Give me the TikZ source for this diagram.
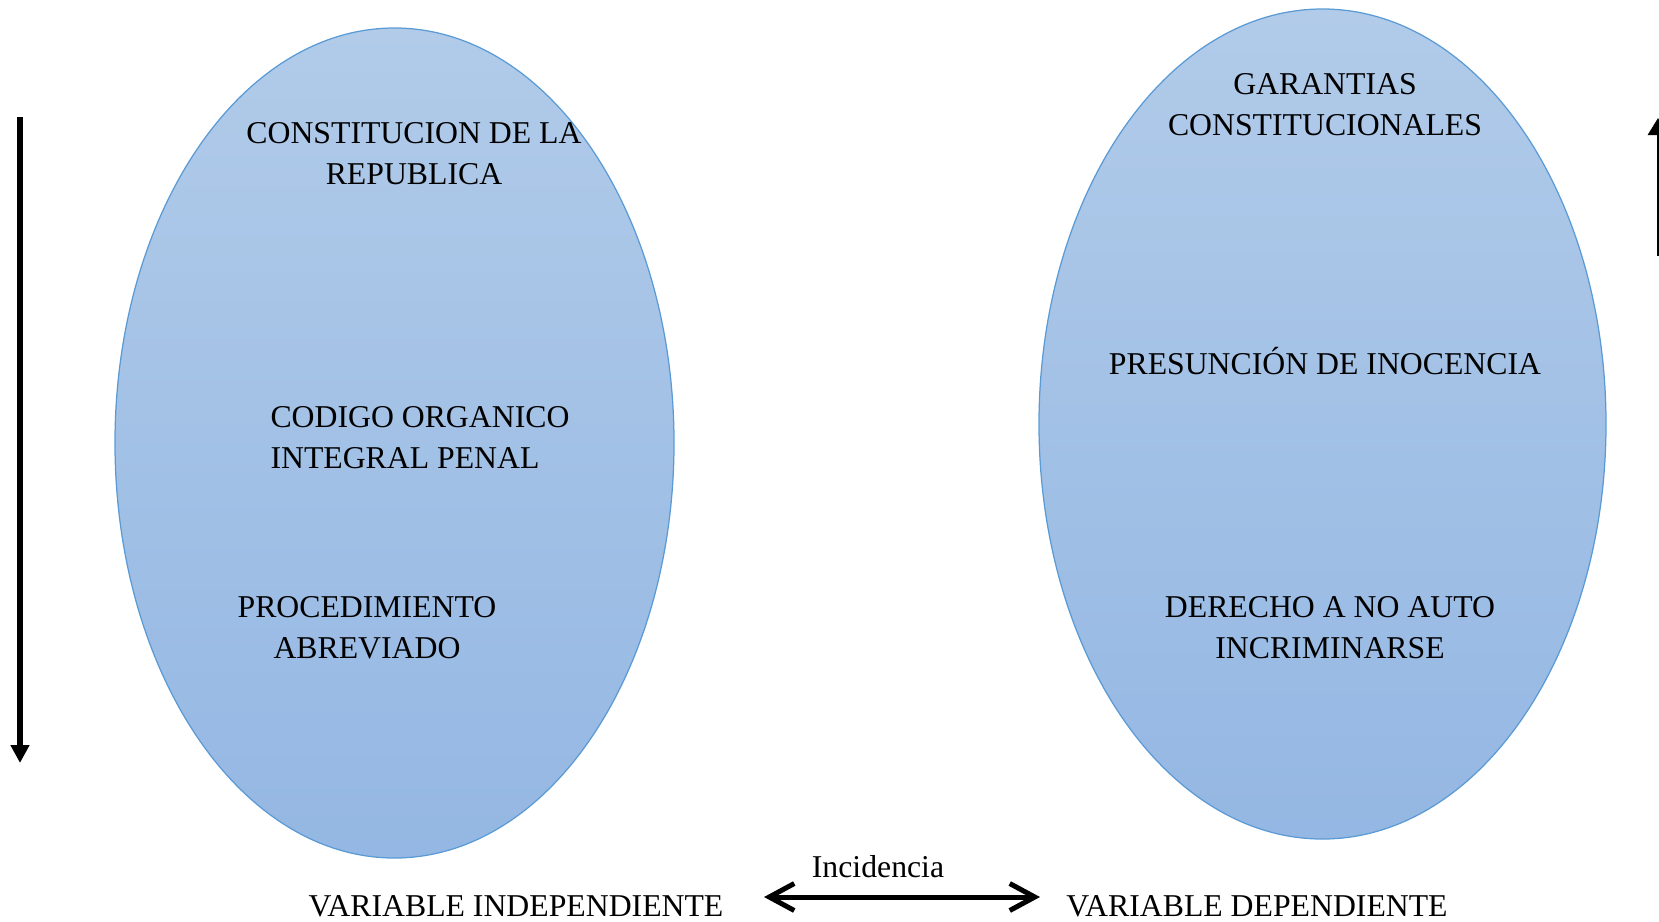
\documentclass[tikz,border=0pt]{standalone}
\usepackage{fontspec}
\setmainfont{Liberation Serif}
\usetikzlibrary{shapes.geometric,arrows.meta,positioning}
\definecolor{ovaltop}{HTML}{B1CBE9}
\definecolor{ovalbot}{HTML}{94B7E3}
\definecolor{ovalline}{HTML}{5B9BD5}
\begin{document}
\begin{tikzpicture}[x=0.4pt, y=-0.4pt,
    oval/.style = {draw=ovalline, line width=0.5pt, ellipse, inner sep=0pt, top color=ovaltop, bottom color=ovalbot},
    txt/.style = {anchor=base, align=center, inner sep=0pt, font=\fontsize{12.7}{16.4}\selectfont}]
    \useasboundingbox (0,0) rectangle (1659,921);
    \node[oval, minimum width=223.6pt, minimum height=332pt] (izq) at (394.5,443) {};
    \node[oval, minimum width=226.8pt, minimum height=332pt] (der) at (1322.5,424) {};
    \node[txt] (1) at (414,184) {CONSTITUCION DE LA\\REPUBLICA};
    \node[txt, align=left, anchor=base west] (2) at (270,468) {CODIGO ORGANICO\\INTEGRAL PENAL};
    \node[txt] (3) at (367,658) {PROCEDIMIENTO\\ABREVIADO};
    \node[txt] (4) at (1325,135) {GARANTIAS\\CONSTITUCIONALES};
    \node[txt] (5) at (1325,374) {PRESUNCIÓN DE INOCENCIA};
    \node[txt] (6) at (1330,658) {DERECHO A NO AUTO\\INCRIMINARSE};
    \node[txt] (7) at (516,916) {VARIABLE INDEPENDIENTE};
    \node[txt] (8) at (1257,916) {VARIABLE DEPENDIENTE};
    \node[txt] (9) at (878,877) {Incidencia};
    \coordinate (a1) at (20,117);
    \coordinate (a2) at (20,763);
    \coordinate (b1) at (1658,256);
    \coordinate (b2) at (1658,118);
    \coordinate (c1) at (764,897);
    \coordinate (c2) at (1040,897);
    \draw[line width=2.4pt, -{Triangle[length=7.2pt,width=7.2pt]}] (a1) -- (a2);
    \draw[line width=1.2pt, -{Triangle[length=6.8pt,width=8pt]}] (b1) -- (b2);
    \draw[line width=2pt, {Straight Barb[length=10pt,width=10.8pt]}-{Straight Barb[length=10pt,width=10.8pt]}] (c1) -- (c2);
\end{tikzpicture}
\end{document}
